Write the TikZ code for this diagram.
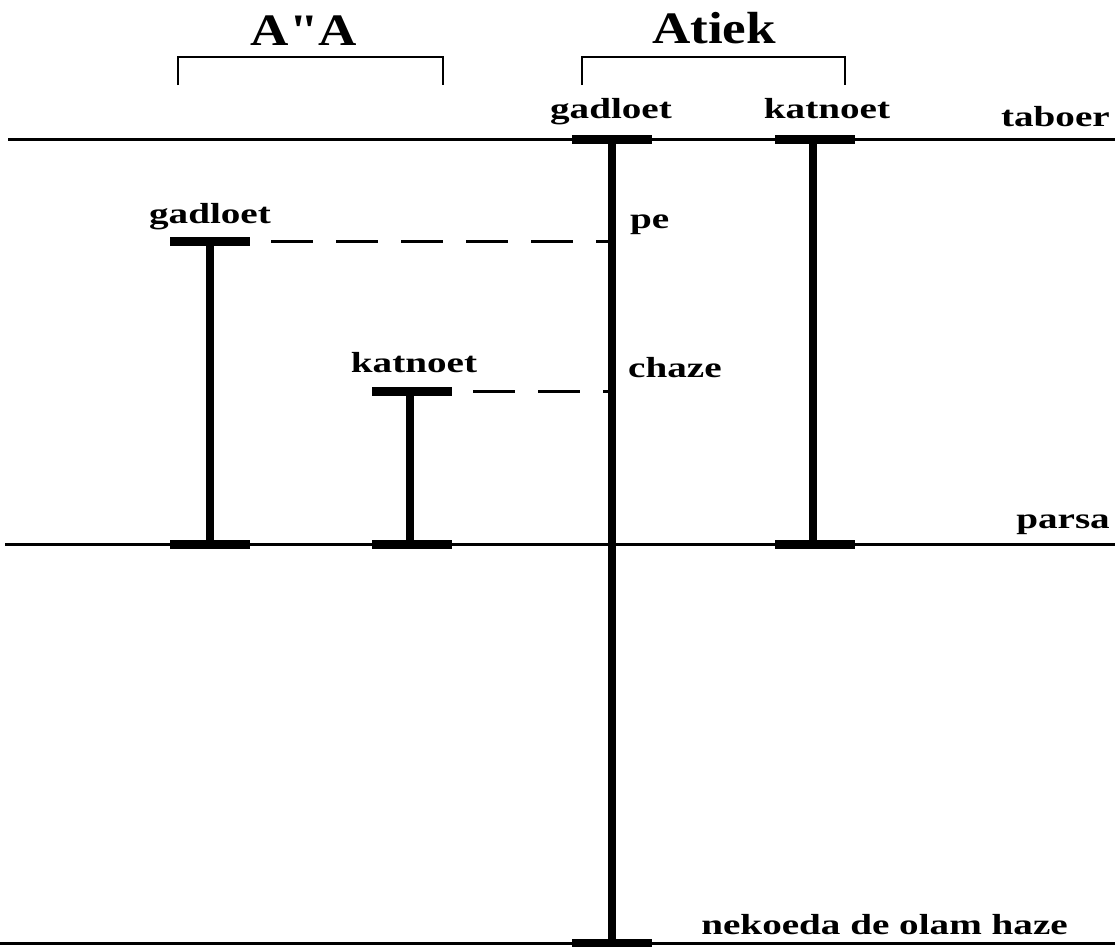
\documentclass[tikz,border=0pt]{standalone}
\usepackage{fontspec}
\newfontfamily\labfont[FakeStretch=1.35]{Liberation Serif Bold}
\newfontfamily\headfont[FakeStretch=1.18]{Liberation Serif Bold}
\begin{document}
\begin{tikzpicture}[x=1pt,y=-1pt,
  thinline/.style={line width=3pt},
  thickline/.style={line width=8pt},
  capline/.style={line width=9pt},
  dashline/.style={line width=3pt,dash pattern=on 42pt off 23pt,dash phase=44pt},
  bracket/.style={line width=2.5pt},
  lab/.style={inner sep=0pt,anchor=base,font=\labfont\fontsize{29}{30}\selectfont},
  head/.style={inner sep=0pt,anchor=base,font=\headfont\fontsize{45}{50}\selectfont}]
\useasboundingbox (0,0) rectangle (1115,946);
% horizontal levels
\coordinate (tabL) at (8,139); \coordinate (tabR) at (1115,139);
\coordinate (parL) at (5,544); \coordinate (parR) at (1115,544);
\coordinate (botL) at (0,943); \coordinate (botR) at (1115,943);
\draw[thinline] (tabL) -- (tabR);
\draw[thinline] (parL) -- (parR);
\draw[thinline] (botL) -- (botR);
% Atiek gadloet (central)
\coordinate (cgT) at (612,139); \coordinate (cgB) at (612,943);
\coordinate (cgPe) at (612,241); \coordinate (cgCh) at (612,391);
\draw[thickline] (cgT) -- (cgB);
\draw[capline] (572,139) -- (652,139);
\draw[capline] (572,943) -- (652,943);
% Atiek katnoet
\coordinate (ckT) at (813,139); \coordinate (ckB) at (813,544);
\draw[thickline] (ckT) -- (ckB);
\draw[capline] (775,139) -- (855,139);
\draw[capline] (775,544) -- (855,544);
% A"A gadloet
\coordinate (agT) at (210,241); \coordinate (agB) at (210,544);
\draw[thickline] (agT) -- (agB);
\draw[capline] (170,241) -- (250,241) coordinate (agE);
\draw[capline] (170,544) -- (250,544);
% A"A katnoet
\coordinate (akT) at (410,391); \coordinate (akB) at (410,544);
\draw[thickline] (akT) -- (akB);
\draw[capline] (372,391) -- (452,391) coordinate (akE);
\draw[capline] (372,544) -- (452,544);
% dashed links
\draw[dashline] (agE) -- (cgPe);
\draw[dashline] (akE) -- (cgCh);
% brackets
\draw[bracket] (178,85) -- (178,57) -- (443,57) -- (443,85);
\draw[bracket] (582,85) -- (582,57) -- (845,57) -- (845,85);
% labels
\node[head] (hAA) at (304,45) {A"A};
\node[head] (hAt) at (714,43) {Atiek};
\node[lab] (lcg) at (611,118) {gadloet};
\node[lab] (lck) at (827,118) {katnoet};
\node[lab,anchor=base east] (ltab) at (1110,126) {taboer};
\node[lab] (lag) at (210,223) {gadloet};
\node[lab] (lak) at (414,372) {katnoet};
\node[lab,anchor=base west] (lpe) at (630,228) {pe};
\node[lab,anchor=base west] (lch) at (628,377) {chaze};
\node[lab,anchor=base east] (lpar) at (1110,528) {parsa};
\node[lab,anchor=base east] (lnek) at (1068,934) {nekoeda de olam haze};
\end{tikzpicture}
\end{document}
